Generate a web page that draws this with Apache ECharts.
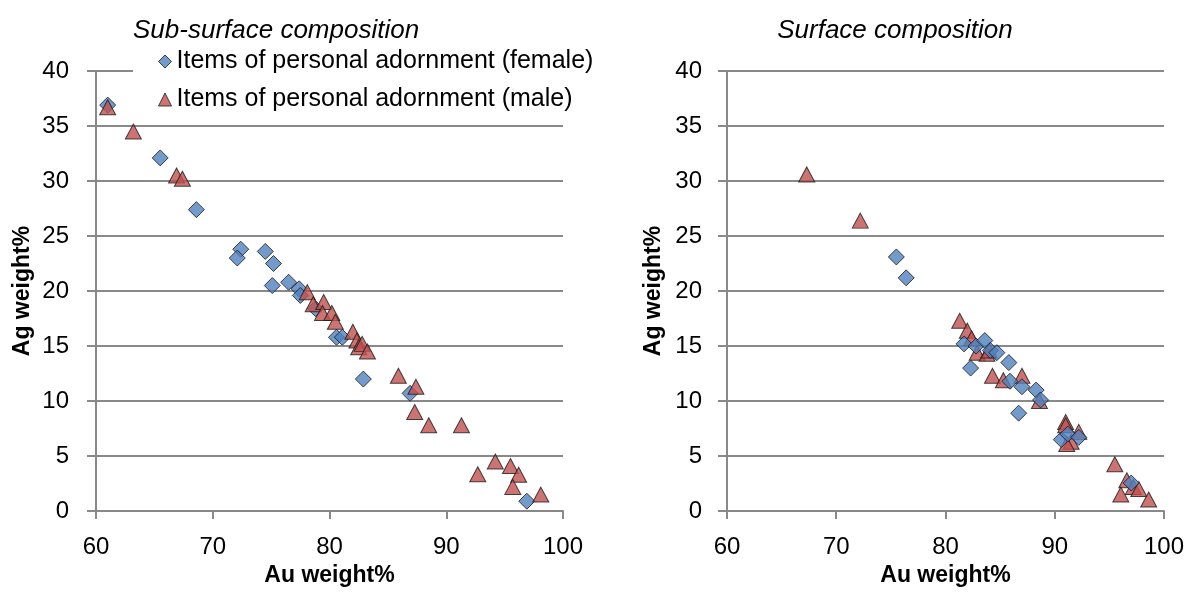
<!DOCTYPE html>
<html>
<head>
<meta charset="utf-8">
<script src="https://cdn.jsdelivr.net/npm/echarts@6/dist/echarts.min.js"></script>
<style>
  html, body { margin: 0; padding: 0; background: #ffffff; }
  #chart { width: 1187px; height: 592px; }
</style>
</head>
<body>
<div id="chart"></div>
<script>
// Titles and labels
const titleSub = 'Sub-surface composition';
const titleSurf = 'Surface composition';
const nameFemale = 'Items of personal adornment (female)';
const nameMale = 'Items of personal adornment (male)';
const xName = 'Au weight%';
const yName = 'Ag weight%';

// Sub-surface composition: [Au weight%, Ag weight%]
const subFemale = [
  [61.0, 36.9], [65.5, 32.1], [68.6, 27.4], [72.4, 23.8], [72.1, 23.0],
  [74.5, 23.6], [75.2, 22.5], [75.1, 20.5], [76.5, 20.8], [77.4, 20.2],
  [77.5, 19.6], [78.8, 18.4], [80.6, 15.8], [81.1, 15.8], [82.9, 12.0],
  [86.9, 10.7], [96.9, 0.9]
];
const subMale = [
  [61.0, 36.7], [63.2, 34.5], [66.9, 30.5], [67.4, 30.2], [78.1, 19.9],
  [78.6, 18.8], [79.5, 19.0], [79.4, 18.0], [80.2, 18.0], [80.5, 17.2],
  [82.0, 16.3], [82.35, 15.5], [82.5, 14.9], [82.8, 15.2], [83.25, 14.5],
  [85.9, 12.3], [87.4, 11.3], [87.3, 9.0], [88.5, 7.8], [91.3, 7.8],
  [94.2, 4.5], [92.7, 3.35], [95.5, 4.1], [96.2, 3.3], [95.7, 2.2], [98.1, 1.5]
];

// Surface composition: [Au weight%, Ag weight%]
const surfFemale = [
  [75.5, 23.1], [76.4, 21.2], [81.7, 15.2], [82.3, 13.0], [82.8, 15.0],
  [83.6, 15.5], [84.1, 14.6], [84.7, 14.4], [85.8, 13.5], [85.9, 11.8],
  [86.7, 8.9], [87.0, 11.3], [88.3, 11.0], [88.7, 10.1], [90.6, 6.5],
  [91.2, 7.0], [92.2, 6.7], [97.0, 2.55]
];
const surfMale = [
  [67.3, 30.6], [72.2, 26.4], [81.3, 17.3], [82.0, 16.4], [82.4, 15.7],
  [82.9, 14.4], [83.8, 14.3], [84.0, 14.6], [84.3, 12.3], [85.3, 11.9],
  [87.0, 12.3], [88.6, 10.0], [91.0, 8.1], [91.0, 7.8], [92.2, 7.2],
  [91.5, 6.3], [91.1, 6.1], [95.5, 4.25], [96.6, 2.8], [97.2, 2.2],
  [97.7, 2.0], [96.05, 1.5], [98.6, 1.05]
];

// Axis ranges: min, max, step
const xRange = [60, 100, 10];
const yRange = [0, 40, 5];

const FONT = 'Liberation Sans';
const GRID_GRAY = '#898989';
const BLUE = '#4F81BD';
const RED = '#C0504D';

function makeX(idx) {
  return {
    type: 'value', gridIndex: idx,
    min: xRange[0], max: xRange[1], interval: xRange[2],
    name: xName, nameLocation: 'middle', nameGap: 50,
    nameTextStyle: { fontFamily: FONT, fontSize: 23, fontWeight: 'bold', color: '#000' },
    axisLine: { show: true, lineStyle: { color: GRID_GRAY, width: 2 } },
    axisTick: { show: true, length: 8, inside: false, lineStyle: { color: GRID_GRAY, width: 2 } },
    axisLabel: { fontFamily: FONT, fontSize: 24, color: '#000', margin: 24 },
    splitLine: { show: false }
  };
}
function makeY(idx, margin) {
  return {
    type: 'value', gridIndex: idx,
    min: yRange[0], max: yRange[1], interval: yRange[2],
    name: yName, nameLocation: 'middle', nameRotate: 90, nameGap: 62,
    nameTextStyle: { fontFamily: FONT, fontSize: 23, fontWeight: 'bold', color: '#000' },
    axisLine: { show: true, lineStyle: { color: GRID_GRAY, width: 2 } },
    axisTick: { show: true, length: 9, inside: false, lineStyle: { color: GRID_GRAY, width: 2 } },
    axisLabel: { fontFamily: FONT, fontSize: 24, color: '#000', margin: margin },
    splitLine: { show: true, lineStyle: { color: GRID_GRAY, width: 2 } }
  };
}

const diamondStyle = { color: BLUE, borderColor: '#1a1a1a', borderWidth: 1 };
const triangleStyle = { color: RED, borderColor: '#1a1a1a', borderWidth: 1 };

function femaleSeries(data, idx) {
  return {
    name: nameFemale, type: 'scatter', xAxisIndex: idx, yAxisIndex: idx,
    symbol: 'diamond', symbolSize: [16, 16], itemStyle: diamondStyle,
    data: data, animation: false
  };
}
function maleSeries(data, idx) {
  return {
    name: nameMale, type: 'scatter', xAxisIndex: idx, yAxisIndex: idx,
    symbol: 'triangle', symbolSize: [16, 15], itemStyle: triangleStyle,
    data: data, animation: false
  };
}

const chart = echarts.init(document.getElementById('chart'), null, { renderer: 'canvas' });
chart.setOption({
  animation: false,
  backgroundColor: '#ffffff',
  textStyle: { fontFamily: FONT },
  title: [
    { text: titleSub, left: 128, top: 13,
      textStyle: { fontFamily: FONT, fontSize: 26, fontStyle: 'italic', fontWeight: 'normal', color: '#000' } },
    { text: titleSurf, left: 890, top: 13, textAlign: 'center',
      textStyle: { fontFamily: FONT, fontSize: 26, fontStyle: 'italic', fontWeight: 'normal', color: '#000' } }
  ],
  legend: {
    orient: 'vertical', left: 133, top: 43,
    padding: [6, 12, 6, 25],
    backgroundColor: '#ffffff',
    itemWidth: 13, itemHeight: 13, itemGap: 13,
    textStyle: { fontFamily: FONT, fontSize: 25, color: '#000' },
    data: [
      { name: nameFemale, icon: 'diamond', itemStyle: diamondStyle },
      { name: nameMale, icon: 'triangle', itemStyle: triangleStyle }
    ],
    selectedMode: false
  },
  grid: [
    { left: 96, right: 624, top: 71, bottom: 73, containLabel: false },
    { left: 727, right: 23, top: 71, bottom: 73, containLabel: false }
  ],
  xAxis: [makeX(0), makeX(1)],
  yAxis: [makeY(0, 27), makeY(1, 25)],
  series: [
    femaleSeries(subFemale, 0),
    maleSeries(subMale, 0),
    maleSeries(surfMale, 1),
    femaleSeries(surfFemale, 1)
  ]
});
</script>
</body>
</html>
